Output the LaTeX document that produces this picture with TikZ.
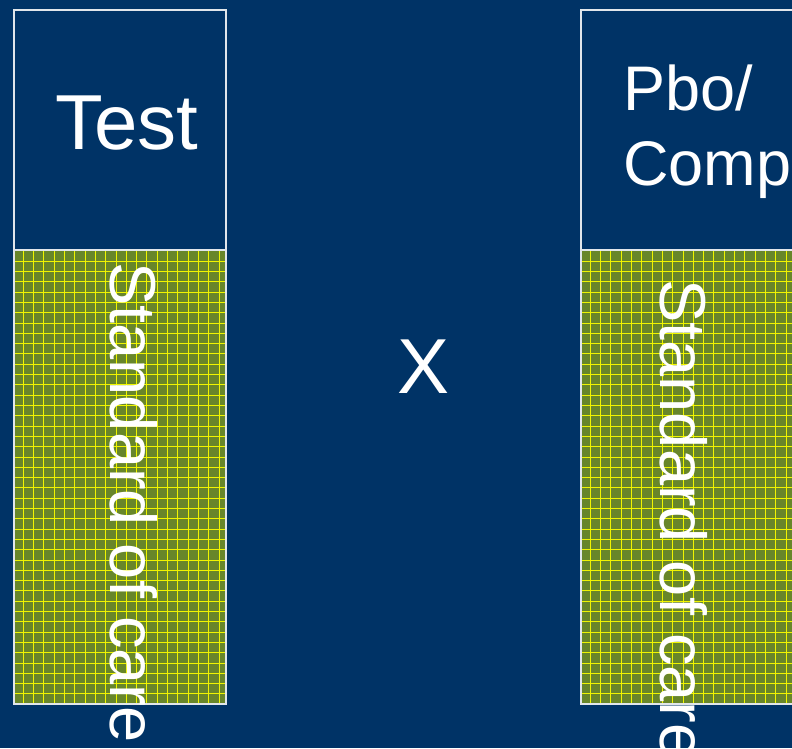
\documentclass[tikz,border=0pt]{standalone}
\usepackage{fontspec}
\setmainfont{Liberation Sans}
\definecolor{navy}{RGB}{0,51,102}
\definecolor{olivecell}{RGB}{104,134,42}
\definecolor{gridyellow}{RGB}{240,245,0}
\definecolor{edge}{RGB}{225,230,235}
\tikzset{
  panel/.style={draw=edge, line width=1.6pt, fill=navy},
  soc/.style={fill=olivecell},
  gridline/.style={draw=gridyellow, line width=1pt},
  bigtext/.style={text=white, inner sep=0pt, font=\fontsize{78}{92}\selectfont},
  midtext/.style={text=white, inner sep=0pt, font=\fontsize{63}{75}\selectfont},
  soctext/.style={text=white, inner sep=0pt, font=\fontsize{65}{75}\selectfont},
}
\begin{document}
\begin{tikzpicture}[x=1pt,y=1pt]
\clip (0,0) rectangle (792,748);
\fill[navy] (0,0) rectangle (792,748);
% left column
\begin{scope}
\clip (13,43) rectangle (225,497);
\fill[soc] (13,43) rectangle (225,497);
\foreach \i in {1,...,21} {\draw[gridline] (13+10.3*\i,43) -- (13+10.3*\i,497);}
\foreach \i in {1,...,45} {\draw[gridline] (13,497-10.3*\i) -- (225,497-10.3*\i);}
\end{scope}
\begin{scope}
\clip (580,43) rectangle (800,497);
\fill[soc] (580,43) rectangle (800,497);
\foreach \i in {1,...,22} {\draw[gridline] (580+10.3*\i,43) -- (580+10.3*\i,497);}
\foreach \i in {1,...,45} {\draw[gridline] (580,497-10.3*\i) -- (800,497-10.3*\i);}
\end{scope}
\node[panel, fill=none, minimum width=212pt, minimum height=454pt, anchor=south west, inner sep=0pt] (lsoc) at (13,43) {};
\node[panel, minimum width=212pt, minimum height=240pt, anchor=south west, inner sep=0pt] (ltop) at (13,497) {};
\node[panel, fill=none, minimum width=230pt, minimum height=454pt, anchor=south west, inner sep=0pt] (rsoc) at (580,43) {};
\node[panel, minimum width=230pt, minimum height=240pt, anchor=south west, inner sep=0pt] (rtop) at (580,497) {};
% texts
\node[bigtext, anchor=base west] (test) at (55,598) {Test};
\node[bigtext] (x) at (424,381) {X};
\node[midtext, anchor=base west, align=left] (pbo) at (623,562) {Pbo/\\Comp};
\node[soctext, anchor=base west, rotate=-90] (socl) at (110.5,486) {Standard of care};
\node[soctext, anchor=base west, rotate=-90] (socr) at (660,469) {Standard of care};
\end{tikzpicture}
\end{document}
